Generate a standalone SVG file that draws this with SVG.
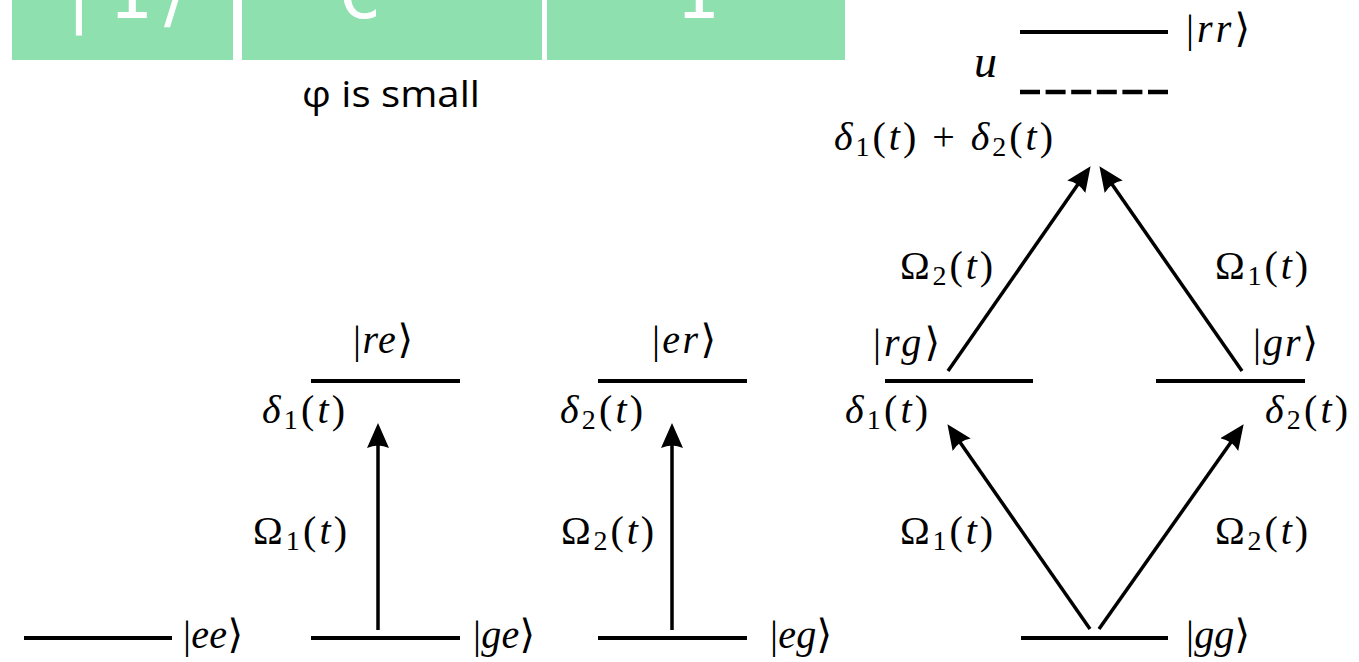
<svg xmlns="http://www.w3.org/2000/svg" width="1359" height="662" viewBox="0 0 1359 662">
<style>
.lvl{stroke:#000;stroke-width:4;fill:none}
.dash{stroke:#000;stroke-width:4.5;fill:none;stroke-dasharray:20 5.6}
.arr{stroke:#000;stroke-width:3.5;fill:none;marker-end:url(#ah)}
.m{font-family:"Liberation Serif","DejaVu Serif",serif;font-size:40px;fill:#000}
.it{font-style:italic}
.sub{font-size:28px}
.box{fill:#8ee0ae}
.bt{font-family:"DejaVu Sans Mono","Liberation Mono",monospace;font-size:72px;fill:#fff;text-anchor:middle}
.cap{font-family:"Open Sans","DejaVu Sans",sans-serif;font-size:37px;fill:#000}
</style>
<defs>
<marker id="ah" markerUnits="userSpaceOnUse" markerWidth="28" markerHeight="26" viewBox="0 -13 28 26" refX="10" refY="0" orient="auto">
<path d="M25,0 L0,-11 Q5,0 0,11 Z" fill="#000"/>
</marker>
</defs>
<rect width="1359" height="662" fill="#fff"/>

<g id="header">
<rect class="box" x="12" y="-5" width="221" height="65"/>
<rect class="box" x="242" y="-5" width="300" height="65"/>
<rect class="box" x="547" y="-5" width="298" height="65"/>
<text class="bt" x="79" y="18">|</text>
<text class="bt" x="130" y="18">1</text>
<text class="bt" x="172" y="18">⟩</text>
<text class="bt" x="360" y="18">C</text>
<text class="bt" x="697" y="18">1</text>
<text class="cap" x="302" y="107" textLength="178" lengthAdjust="spacingAndGlyphs">φ is small</text>
</g>

<g id="levels">
<g id="ee"><line class="lvl" x1="24" y1="638" x2="172" y2="638"/><text class="m" x="183" y="648" textLength="60" lengthAdjust="spacing">|<tspan class="it">ee</tspan>⟩</text></g>
<g id="ge"><line class="lvl" x1="311" y1="638" x2="460" y2="638"/><text class="m" x="473" y="648" textLength="62" lengthAdjust="spacing">|<tspan class="it">ge</tspan>⟩</text></g>
<g id="eg"><line class="lvl" x1="598" y1="638" x2="747" y2="638"/><text class="m" x="770" y="648" textLength="62" lengthAdjust="spacing">|<tspan class="it">eg</tspan>⟩</text></g>
<g id="gg"><line class="lvl" x1="1021" y1="638" x2="1168" y2="638"/><text class="m" x="1186" y="648" textLength="64" lengthAdjust="spacing">|<tspan class="it">gg</tspan>⟩</text></g>
<g id="re"><line class="lvl" x1="311" y1="381" x2="460" y2="381"/><text class="m" x="353" y="353" textLength="60" lengthAdjust="spacing">|<tspan class="it">re</tspan>⟩</text>
<text class="m" x="262" y="423" textLength="83" lengthAdjust="spacing"><tspan class="it">δ</tspan><tspan class="sub" dy="6">1</tspan><tspan dy="-6">(</tspan><tspan class="it">t</tspan>)</text></g>
<g id="er"><line class="lvl" x1="598" y1="381" x2="747" y2="381"/><text class="m" x="652" y="353" textLength="64" lengthAdjust="spacing">|<tspan class="it">er</tspan>⟩</text>
<text class="m" x="560" y="423" textLength="83" lengthAdjust="spacing"><tspan class="it">δ</tspan><tspan class="sub" dy="6">2</tspan><tspan dy="-6">(</tspan><tspan class="it">t</tspan>)</text></g>
<g id="rg"><line class="lvl" x1="885" y1="381" x2="1033" y2="381"/><text class="m" x="873" y="356" textLength="67" lengthAdjust="spacing">|<tspan class="it">rg</tspan>⟩</text>
<text class="m" x="845" y="423" textLength="83" lengthAdjust="spacing"><tspan class="it">δ</tspan><tspan class="sub" dy="6">1</tspan><tspan dy="-6">(</tspan><tspan class="it">t</tspan>)</text></g>
<g id="gr"><line class="lvl" x1="1156" y1="381" x2="1305" y2="381"/><text class="m" x="1253" y="356" textLength="65" lengthAdjust="spacing">|<tspan class="it">gr</tspan>⟩</text>
<text class="m" x="1265" y="423" textLength="83" lengthAdjust="spacing"><tspan class="it">δ</tspan><tspan class="sub" dy="6">2</tspan><tspan dy="-6">(</tspan><tspan class="it">t</tspan>)</text></g>
<g id="rr"><line class="lvl" x1="1020" y1="32" x2="1168" y2="32"/><text class="m" x="1186" y="42" textLength="64" lengthAdjust="spacing">|<tspan class="it">rr</tspan>⟩</text>
<line class="dash" x1="1020" y1="92" x2="1168" y2="92"/>
<text class="m it" x="974" y="77" style="font-size:46px">u</text>
<text class="m" x="834" y="150" textLength="219" lengthAdjust="spacing"><tspan class="it">δ</tspan><tspan class="sub" dy="6">1</tspan><tspan dy="-6">(</tspan><tspan class="it">t</tspan>) + <tspan class="it">δ</tspan><tspan class="sub" dy="6">2</tspan><tspan dy="-6">(</tspan><tspan class="it">t</tspan>)</text></g>
</g>

<g id="connectors">
<line class="arr" x1="378" y1="630" x2="378" y2="438"/>
<line class="arr" x1="672" y1="630" x2="672" y2="438"/>
<line class="arr" x1="1090" y1="629" x2="956" y2="436.5"/>
<line class="arr" x1="1099" y1="629" x2="1235" y2="436.5"/>
<line class="arr" x1="948" y1="371" x2="1082" y2="178.5"/>
<line class="arr" x1="1242" y1="371" x2="1108" y2="178.5"/>
<text class="m" x="253" y="544" textLength="94" lengthAdjust="spacing">Ω<tspan class="sub" dy="6">1</tspan><tspan dy="-6">(</tspan><tspan class="it">t</tspan>)</text>
<text class="m" x="561" y="544" textLength="93" lengthAdjust="spacing">Ω<tspan class="sub" dy="6">2</tspan><tspan dy="-6">(</tspan><tspan class="it">t</tspan>)</text>
<text class="m" x="900" y="544" textLength="93" lengthAdjust="spacing">Ω<tspan class="sub" dy="6">1</tspan><tspan dy="-6">(</tspan><tspan class="it">t</tspan>)</text>
<text class="m" x="1215" y="544" textLength="93" lengthAdjust="spacing">Ω<tspan class="sub" dy="6">2</tspan><tspan dy="-6">(</tspan><tspan class="it">t</tspan>)</text>
<text class="m" x="900" y="279" textLength="93" lengthAdjust="spacing">Ω<tspan class="sub" dy="6">2</tspan><tspan dy="-6">(</tspan><tspan class="it">t</tspan>)</text>
<text class="m" x="1215" y="279" textLength="93" lengthAdjust="spacing">Ω<tspan class="sub" dy="6">1</tspan><tspan dy="-6">(</tspan><tspan class="it">t</tspan>)</text>
</g>
</svg>
